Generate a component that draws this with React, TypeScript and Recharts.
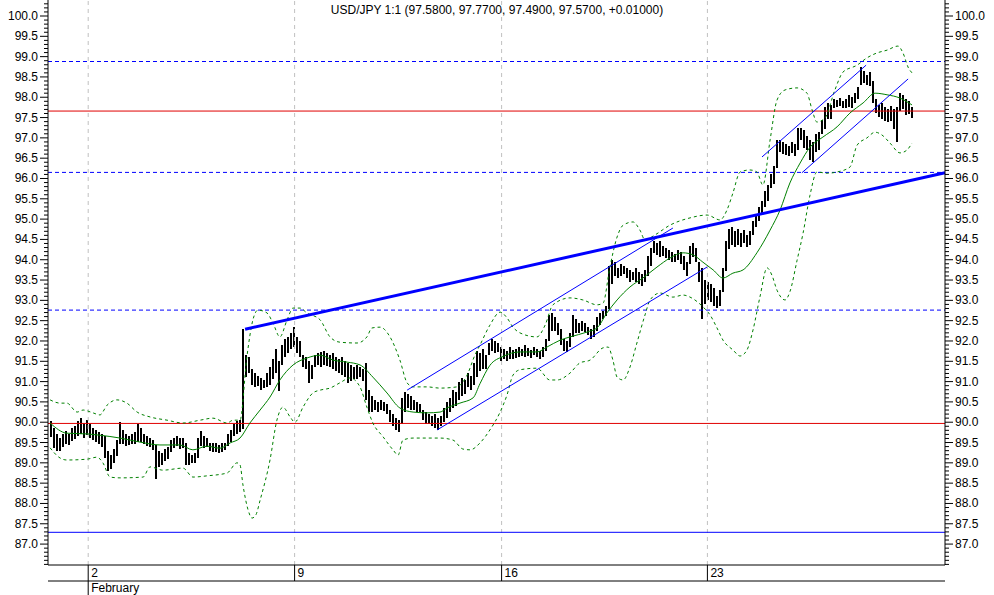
import {
  Bar,
  ComposedChart,
  Line,
  ReferenceLine,
  XAxis,
  YAxis,
} from "recharts";

// hourly-ish bars as [high, low], one per slot starting at slot 1
const PRE_WEEK: number[][] = [
  [90.02, 89.62], [89.85, 89.35], [89.7, 89.28], [89.62, 89.3], [89.72, 89.4], [89.78, 89.45], [89.7, 89.42],
  [89.85, 89.52], [89.9, 89.58], [90.02, 89.65], [90.1, 89.7], [89.98, 89.62], [90.05, 89.68],
];
const WEEK_FEB2: number[][] = [
  [89.95, 89.6], [89.85, 89.55], [89.8, 89.5], [89.75, 89.45], [89.72, 89.4], [89.65, 89.1], [89.3, 88.8], [89.2, 88.85], [89.35, 89.0], [89.55, 89.15],
  [90.0, 89.45], [89.8, 89.45], [89.7, 89.4], [89.65, 89.42], [89.7, 89.45], [89.75, 89.45], [89.95, 89.5], [89.85, 89.5], [89.7, 89.45], [89.65, 89.4],
  [89.6, 89.38], [89.55, 89.3], [89.45, 88.62], [89.3, 88.9], [89.25, 88.95], [89.35, 89.05], [89.4, 89.1], [89.55, 89.25], [89.6, 89.35], [89.65, 89.4],
  [89.62, 89.35], [89.6, 89.35], [89.5, 88.95], [89.25, 88.95], [89.2, 89.0], [89.25, 89.0], [89.6, 89.1], [89.78, 89.4], [89.65, 89.35], [89.6, 89.38],
  [89.5, 89.3], [89.48, 89.25], [89.5, 89.28], [89.45, 89.25], [89.5, 89.28], [89.48, 89.3], [89.7, 89.4], [89.8, 89.5], [89.95, 89.65], [90.02, 89.7],
  [90.05, 89.75], [92.3, 89.85], [91.65, 91.1], [91.6, 91.2], [91.3, 90.9], [91.2, 90.85], [91.15, 90.9], [91.1, 90.8], [91.05, 90.85], [91.2, 90.85],
  [91.35, 90.9], [91.55, 91.05], [91.8, 91.2], [91.5, 90.75], [91.9, 91.4], [92.05, 91.6], [92.1, 91.7], [92.2, 91.8], [92.35, 91.85],
];
const WEEK_FEB9: number[][] = [
  [92.1, 91.7], [92.0, 91.6], [91.65, 91.35], [91.6, 91.3], [91.5, 90.95], [91.4, 91.05], [91.65, 91.35], [91.7, 91.4], [91.72, 91.35], [91.75, 91.4],
  [91.7, 91.38], [91.65, 91.35], [91.7, 91.3], [91.6, 91.25], [91.55, 91.2], [91.6, 91.15], [91.5, 91.1], [91.45, 90.95], [91.4, 91.0], [91.35, 91.05],
  [91.4, 91.05], [91.35, 91.1], [91.3, 91.0], [91.45, 90.55], [90.8, 90.25], [90.65, 90.25], [90.55, 90.3], [90.5, 90.25], [90.55, 90.3], [90.5, 90.28],
  [90.45, 90.2], [90.3, 90.0], [90.2, 89.9], [90.1, 89.8], [90.05, 89.75], [90.6, 89.95], [90.75, 90.25], [90.7, 90.35], [90.65, 90.3], [90.55, 90.3],
  [90.5, 90.25], [90.45, 90.25], [90.3, 90.05], [90.25, 89.95], [90.2, 89.95], [90.15, 89.9], [90.2, 89.85], [90.1, 89.8], [90.15, 89.9], [90.35, 90.0],
  [90.5, 90.1], [90.6, 90.25], [90.8, 90.35], [90.75, 90.4], [91.0, 90.55], [91.1, 90.65], [91.05, 90.7], [91.2, 90.85], [91.15, 90.8], [91.45, 90.9],
  [91.75, 91.1], [91.7, 91.25], [91.8, 91.3], [91.65, 91.3], [91.95, 91.65], [92.05, 91.75], [92.0, 91.7], [91.95, 91.72], [91.85, 91.5],
];
const WEEK_FEB16: number[][] = [
  [91.8, 91.55], [91.75, 91.5], [91.85, 91.55], [91.78, 91.55], [91.8, 91.58], [91.85, 91.6], [91.8, 91.62], [91.9, 91.6], [91.82, 91.62], [91.78, 91.58],
  [91.85, 91.65], [91.8, 91.6], [91.75, 91.55], [91.85, 91.6], [92.05, 91.75], [92.65, 92.0], [92.7, 92.25], [92.6, 92.25], [92.45, 92.15], [92.3, 91.9],
  [92.05, 91.75], [92.0, 91.72], [92.2, 91.85], [92.65, 92.1], [92.55, 92.2], [92.45, 92.2], [92.5, 92.25], [92.45, 92.22], [92.35, 92.15], [92.3, 92.05],
  [92.4, 92.1], [92.6, 92.25], [92.7, 92.4], [92.75, 92.55], [92.85, 92.6], [93.85, 92.8], [94.0, 93.4], [93.95, 93.6], [93.8, 93.55], [93.9, 93.6],
  [93.85, 93.65], [93.8, 93.55], [93.75, 93.45], [93.7, 93.5], [93.8, 93.45], [93.7, 93.4], [93.65, 93.35], [93.75, 93.45], [94.1, 93.6], [94.3, 93.85],
  [94.45, 94.15], [94.4, 94.1], [94.45, 94.05], [94.35, 94.1], [94.3, 94.05], [94.25, 94.0], [94.2, 93.95], [94.15, 93.95], [94.25, 94.0], [94.2, 93.9],
  [94.1, 93.75], [93.95, 93.6], [94.35, 93.9], [94.4, 94.05], [94.3, 93.95], [93.95, 93.45], [93.8, 92.55], [93.5, 92.9], [93.45, 93.0],
];
const WEEK_FEB23: number[][] = [
  [93.4, 92.95], [93.3, 92.85], [93.1, 92.8], [93.25, 92.85], [93.8, 93.2], [94.45, 93.7], [94.75, 94.25], [94.8, 94.35], [94.7, 94.3], [94.75, 94.35],
  [94.65, 94.3], [94.72, 94.4], [94.6, 94.3], [94.7, 94.35], [94.95, 94.6], [95.1, 94.8], [95.3, 94.95], [95.45, 95.1], [95.7, 95.3], [95.85, 95.45],
  [96.1, 95.75], [96.3, 95.85], [96.95, 96.25], [96.95, 96.65], [96.9, 96.6], [96.85, 96.58], [96.8, 96.55], [96.9, 96.62], [96.85, 96.55], [97.25, 96.7],
  [97.25, 96.95], [97.2, 96.75], [97.05, 96.7], [96.95, 96.45], [96.9, 96.4], [97.1, 96.65], [97.15, 96.7], [97.45, 97.1], [97.75, 97.2], [97.85, 97.45],
  [97.8, 97.45], [97.95, 97.72], [97.92, 97.75], [97.98, 97.78], [97.9, 97.72], [97.95, 97.74], [98.05, 97.76], [98.0, 97.72], [98.1, 97.85], [98.25, 97.95],
  [98.75, 98.3], [98.65, 98.35], [98.55, 98.3], [98.62, 98.28], [98.4, 97.85], [97.95, 97.6], [97.8, 97.5], [97.85, 97.45], [97.75, 97.4], [97.7, 97.38],
  [97.78, 97.42], [97.7, 97.2], [97.75, 96.9], [98.1, 97.65], [98.05, 97.7], [97.95, 97.55], [97.9, 97.58], [97.77, 97.49],
];

// [slot, value]
const MOVING_AVG: number[][] = [
  [0.7, 89.98], [6.3, 89.73], [13.3, 89.71], [17.3, 89.68], [24, 89.61], [30.7, 89.51], [37.3, 89.44], [44, 89.44],
  [48.3, 89.32], [53, 89.41], [57.3, 89.36], [60.7, 89.49], [64, 89.61], [67.3, 89.98], [70.7, 90.3], [74, 90.62],
  [77.3, 91.04], [81.7, 91.41], [86.3, 91.58], [90.7, 91.65], [95, 91.53], [99.7, 91.48], [104, 91.41], [108.3, 91.11],
  [113, 90.72], [117.3, 90.35], [121.7, 90.25], [126.3, 90.23], [130.7, 90.25], [133, 90.35], [137.3, 90.47], [141.7, 90.6],
  [144, 90.95], [147.3, 91.4], [151.7, 91.62], [157.3, 91.73], [163, 91.73], [166.3, 91.85], [170.7, 92.02], [174, 92.1],
  [179.7, 92.22], [183, 92.32], [186.3, 92.69], [189.7, 93.01], [194, 93.33], [198.3, 93.55], [203, 93.82], [207.3, 94.04],
  [211.7, 94.17], [215, 94.12], [218.3, 93.94], [221.7, 93.75], [225, 93.55], [228.3, 93.67], [231.7, 93.75], [236.3, 94.17],
  [240.7, 94.73], [244, 95.22], [247.3, 95.89], [250.7, 96.38], [254, 96.77], [258.3, 97.02], [263, 97.27], [267.3, 97.61],
  [271.7, 97.86], [275.7, 98.1], [279.7, 98.06], [284, 97.98], [288, 97.81],
];
const UPPER_BAND: number[][] = [
  [0.7, 90.55], [4, 90.47], [6.3, 90.47], [9.7, 90.25], [11.7, 90.3], [15, 90.23], [17.3, 90.18], [19.7, 90.42],
  [23, 90.55], [26.3, 90.47], [29.7, 90.25], [34, 90.13], [39.7, 90.05], [45, 89.98], [50.7, 90.05], [55, 90.1],
  [59.7, 89.98], [61.7, 90.05], [64, 90.05], [66.3, 91.61], [68.3, 92.52], [70, 92.76], [73, 92.69], [75, 92.44],
  [77.3, 92.1], [79.7, 92.52], [81.7, 92.81], [84, 92.81], [86.3, 92.69], [90.7, 92.52], [94, 92.1], [97.3, 91.97],
  [103, 91.95], [106.3, 92.1], [108, 92.32], [110.7, 92.34], [114, 92.1], [117.3, 91.53], [119.7, 90.97], [121.7, 90.87],
  [126.3, 90.87], [130.7, 90.84], [136.3, 90.87], [139.7, 91.16], [142.3, 91.65], [144, 91.9], [147.3, 92.39], [150.7, 92.71],
  [153, 92.57], [155, 92.34], [157.3, 92.2], [163, 92.1], [165.7, 92.39], [168.3, 92.89], [174, 93.06], [178.3, 93.01],
  [183, 92.89], [185, 92.93], [187.3, 93.82], [189.7, 94.56], [191.7, 94.85], [195, 94.93], [197.3, 94.73], [199, 94.49],
  [202.3, 94.61], [207.3, 94.85], [214, 95.03], [219.7, 95.1], [224, 94.98], [226.3, 95.22], [228.3, 95.64], [230.7, 96.16],
  [234, 96.21], [236.3, 96.16], [238.3, 95.84], [240.7, 96.95], [243, 97.93], [245.7, 98.18], [249.7, 98.23], [253, 98.1],
  [254.7, 97.69], [256.3, 97.39], [259, 97.49], [262.3, 98.18], [265, 98.62], [269.7, 98.79], [273, 98.97], [276.3, 99.09],
  [279.7, 99.16], [283.3, 99.26], [285, 99.09], [286.7, 98.74], [288, 98.6],
];
const LOWER_BAND: number[][] = [
  [0.7, 89.37], [4, 89.12], [6.3, 89.07], [13, 89.09], [16.3, 89.14], [18.3, 89.0], [20.7, 88.65], [24, 88.63],
  [31.7, 88.65], [34, 88.9], [38.3, 88.82], [45, 88.87], [48.3, 88.65], [53, 88.68], [59.7, 88.75], [63, 89.0],
  [64, 88.95], [65, 88.45], [66.7, 87.84], [68, 87.64], [69.3, 87.72], [70.7, 88.08], [74, 89.07], [76.3, 90.05],
  [78.3, 90.37], [80.7, 90.13], [82.3, 90.0], [85, 90.37], [88.3, 90.72], [90.7, 90.79], [94, 90.84], [97.3, 90.97],
  [100.7, 91.09], [104, 90.87], [106.3, 90.37], [108.3, 89.98], [111.7, 89.64], [115, 89.32], [116.7, 89.19], [118.3, 89.56],
  [121.7, 89.61], [130.7, 89.61], [135, 89.56], [138.3, 89.34], [140.7, 89.32], [144, 89.49], [147.3, 89.81], [150.7, 90.25],
  [153, 90.67], [155, 91.16], [157.3, 91.29], [163, 91.33], [167.3, 91.04], [169.7, 91.04], [174, 91.21], [177.3, 91.46],
  [180.7, 91.53], [185, 91.83], [186.7, 91.85], [188.3, 91.53], [189.7, 91.11], [191.7, 91.04], [194, 91.36], [196.3, 91.95],
  [199, 92.64], [200.7, 93.01], [204, 93.18], [208.3, 93.08], [211.7, 93.13], [214, 93.08], [218.3, 92.84], [220.7, 92.64],
  [223, 92.32], [225, 92.02], [228.3, 91.78], [230.7, 91.63], [233, 91.78], [235, 92.27], [237.3, 93.08], [239.7, 93.8],
  [241.3, 93.62], [243, 93.25], [245.7, 93.01], [247.3, 93.21], [249.7, 93.99], [251.7, 94.66], [254, 95.59], [256.3, 96.16],
  [259.7, 96.13], [263, 96.16], [267.3, 96.28], [269.7, 96.82], [273, 97.0], [275.7, 97.14], [278, 97.07], [280.7, 96.87],
  [284, 96.63], [286.3, 96.7], [288, 96.87],
];

// drawn trend lines: [[slot, price], [slot, price]]
const TREND_MAIN = [[65.7, 92.29], [299, 96.14]];
const CHANNEL_A = [[[119.7, 90.79], [208.3, 94.78]], [[129.7, 89.81], [219.7, 93.82]]];
const CHANNEL_B = [[[238, 96.53], [272.7, 98.79]], [[251.3, 96.14], [286.7, 98.45]]];

const DASHED_LEVELS = [98.88, 96.15, 92.76];
const RED_LEVELS = [97.66, 89.97];
const BLUE_LEVELS = [87.29];

const DAY_TICKS = [13.4, 82.2, 151.2, 219.8];
const DAY_LABELS = ["2", "9", "16", "23"];
const MONTH_TICKS = [13.4];
const MONTH_LABELS = ["February"];

const MAJOR_TICKS = [
  87.0, 87.5, 88.0, 88.5, 89.0, 89.5, 90.0, 90.5, 91.0, 91.5, 92.0, 92.5, 93.0, 93.5,
  94.0, 94.5, 95.0, 95.5, 96.0, 96.5, 97.0, 97.5, 98.0, 98.5, 99.0, 99.5, 100.0,
];
const Y_TICKS: number[] = [];
for (let k = 865; k <= 1003; k++) Y_TICKS.push(k / 10);

const TITLE = "USD/JPY 1:1 (97.5800, 97.7700, 97.4900, 97.5700, +0.01000)";

const FONT = "'Liberation Sans', Arial, sans-serif";
const GREEN = "#008000";
const BLUE = "#0000ff";
const RED = "#e00000";

const bars = [...PRE_WEEK, ...WEEK_FEB2, ...WEEK_FEB9, ...WEEK_FEB16, ...WEEK_FEB23];
const barData = bars.map(([hi, lo], k) => ({ x: k + 1, range: [lo, hi] }));
const toLine = (pts: number[][]) => pts.map(([x, v]) => ({ x, v }));

const isMajor = (v: number) => MAJOR_TICKS.some((m) => Math.abs(m - v) < 1e-6);

// solid 2px price bar snapped to whole pixels
function PriceBar(props: any) {
  const { x, y, width, height } = props;
  if (height == null || isNaN(y)) return null;
  const cx = Math.round(x + width / 2);
  return (
    <rect
      x={cx - 1}
      y={Math.round(y)}
      width={2}
      height={Math.max(1, Math.round(height))}
      fill="#000"
      shapeRendering="crispEdges"
    />
  );
}

function LeftTick(props: any) {
  const { x, y, payload } = props;
  const major = isMajor(payload.value);
  return (
    <g>
      <line x1={x - (major ? 8 : 4)} x2={x} y1={y} y2={y} stroke="#000" />
      {major && (
        <text x={x - 10} y={y + 4} textAnchor="end" fontSize={12} fontFamily={FONT} fill="#000">
          {payload.value.toFixed(1)}
        </text>
      )}
    </g>
  );
}

function RightTick(props: any) {
  const { x, y, payload } = props;
  const major = isMajor(payload.value);
  return (
    <g>
      <line x1={x} x2={x + (major ? 8 : 4)} y1={y} y2={y} stroke="#000" />
      {major && (
        <text x={x + 10} y={y + 4} textAnchor="start" fontSize={12} fontFamily={FONT} fill="#000">
          {payload.value.toFixed(1)}
        </text>
      )}
    </g>
  );
}

function DayTick(props: any) {
  const { x, y, payload, index } = props;
  const first = index === 0;
  return (
    <g>
      <line x1={x} x2={x} y1={y} y2={y + (first ? 30 : 16)} stroke="#000" />
      <text x={x + 3} y={y + 12} fontSize={12} fontFamily={FONT} fill="#000">
        {DAY_LABELS[DAY_TICKS.indexOf(payload.value)]}
      </text>
    </g>
  );
}

function MonthTick(props: any) {
  const { x, y, payload } = props;
  return (
    <text x={x + 3} y={y + 11} fontSize={12} fontFamily={FONT} fill="#000">
      {MONTH_LABELS[MONTH_TICKS.indexOf(payload.value)]}
    </text>
  );
}

export default function App() {
  const axisIds = { xAxisId: "d", yAxisId: "l" };
  return (
    <div style={{ position: "absolute", left: 0, top: 0, width: 994, height: 595, background: "#fff" }}>
      <ComposedChart
        width={994}
        height={595}
        data={barData}
        margin={{ top: 0, right: 0, bottom: 0, left: 0 }}
      >
        <XAxis
          xAxisId="d"
          dataKey="x"
          type="number"
          domain={[0, 299]}
          allowDataOverflow
          ticks={DAY_TICKS}
          interval={0}
          tickSize={0}
          tickMargin={0}
          tickLine={false}
          height={16}
          axisLine={{ stroke: "#000" }}
          tick={<DayTick />}
        />
        <XAxis
          xAxisId="m"
          dataKey="x"
          type="number"
          domain={[0, 299]}
          allowDataOverflow
          ticks={MONTH_TICKS}
          interval={0}
          tickSize={0}
          tickMargin={0}
          tickLine={false}
          height={14}
          axisLine={{ stroke: "#000" }}
          tick={<MonthTick />}
        />
        <YAxis
          yAxisId="l"
          orientation="left"
          type="number"
          domain={[86.485, 100.394]}
          allowDataOverflow
          ticks={Y_TICKS}
          interval={0}
          width={48}
          tickSize={0}
          tickMargin={0}
          tickLine={false}
          axisLine={{ stroke: "#000" }}
          tick={<LeftTick />}
        />
        <YAxis
          yAxisId="r"
          orientation="right"
          type="number"
          domain={[86.485, 100.394]}
          allowDataOverflow
          ticks={Y_TICKS}
          interval={0}
          width={49}
          tickSize={0}
          tickMargin={0}
          tickLine={false}
          axisLine={{ stroke: "#000" }}
          tick={<RightTick />}
        />

        {DAY_TICKS.map((d) => (
          <ReferenceLine key={"g" + d} {...axisIds} x={d} stroke="#c0c0c0" strokeDasharray="4 4" />
        ))}
        {DASHED_LEVELS.map((v) => (
          <ReferenceLine key={"d" + v} {...axisIds} y={v} stroke={BLUE} strokeDasharray="4 3" />
        ))}
        {RED_LEVELS.map((v) => (
          <ReferenceLine key={"r" + v} {...axisIds} y={v} stroke={RED} />
        ))}
        {BLUE_LEVELS.map((v) => (
          <ReferenceLine key={"b" + v} {...axisIds} y={v} stroke={BLUE} />
        ))}

        <Bar {...axisIds} dataKey="range" fill="#000" barSize={2} shape={<PriceBar />} isAnimationActive={false} />

        <Line {...axisIds} data={toLine(UPPER_BAND)} dataKey="v" type="monotone" stroke={GREEN}
          strokeWidth={1} strokeDasharray="3 3" dot={false} activeDot={false} isAnimationActive={false} />
        <Line {...axisIds} data={toLine(LOWER_BAND)} dataKey="v" type="monotone" stroke={GREEN}
          strokeWidth={1} strokeDasharray="3 3" dot={false} activeDot={false} isAnimationActive={false} />
        <Line {...axisIds} data={toLine(MOVING_AVG)} dataKey="v" type="monotone" stroke={GREEN}
          strokeWidth={1} dot={false} activeDot={false} isAnimationActive={false} />

        <ReferenceLine
          {...axisIds}
          segment={TREND_MAIN.map(([x, y]) => ({ x, y }))}
          stroke={BLUE}
          strokeWidth={3}
        />
        {[...CHANNEL_A, ...CHANNEL_B].map((seg, k) => (
          <ReferenceLine
            key={"c" + k}
            {...axisIds}
            segment={seg.map(([x, y]) => ({ x, y }))}
            stroke={BLUE}
            strokeWidth={1}
          />
        ))}
      </ComposedChart>
      <div
        style={{
          position: "absolute",
          left: 0,
          top: 3,
          width: 994,
          textAlign: "center",
          fontFamily: FONT,
          fontSize: 12,
          lineHeight: "14px",
          color: "#000",
          pointerEvents: "none",
        }}
      >
        {TITLE}
      </div>
    </div>
  );
}
